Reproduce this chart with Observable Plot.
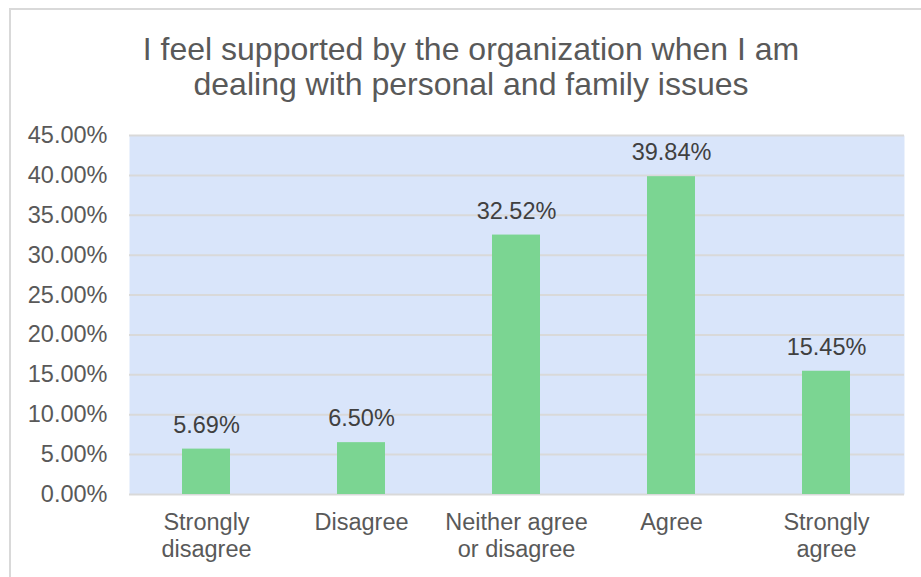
<!DOCTYPE html>
<html>
<head>
<meta charset="utf-8">
<script src="https://cdn.jsdelivr.net/npm/d3@7"></script>
<script src="https://cdn.jsdelivr.net/npm/@observablehq/plot@0.6"></script>
<style>
  body { margin: 0; background: #fff; font-family: "Liberation Sans", Arial, sans-serif; }
  #chart { position: relative; width: 921px; height: 577px; overflow: hidden; background: #fff; }
  #frame { position: absolute; left: 9px; top: 8px; width: 1000px; height: 700px;
           border-top: 2px solid #d9d9d9; border-left: 2px solid #d9d9d9; }
  #title { position: absolute; left: 11px; width: 920px; top: 32px; text-align: center;
           font-size: 32px; line-height: 35px; color: #595959; }
  #plot { position: absolute; left: 0; top: 0; }
</style>
</head>
<body>
<div id="chart">
  <div id="frame"></div>
  <div id="title">I feel supported by the organization when I am<br>dealing with personal and family issues</div>
  <div id="plot"></div>
</div>
<script>
// Survey responses (share of respondents)
const categories = ["Strongly disagree", "Disagree", "Neither agree or disagree", "Agree", "Strongly agree"];
const shares = [0.0569, 0.0650, 0.3252, 0.3984, 0.1545];
const tickLabels = ["Strongly\ndisagree", "Disagree", "Neither agree\nor disagree", "Agree", "Strongly\nagree"];
const yTicks = [0, 0.05, 0.10, 0.15, 0.20, 0.25, 0.30, 0.35, 0.40, 0.45];

const data = categories.map((c, i) => ({category: c, share: shares[i]}));
const pct = d3.format(".2%");
const labelOf = new Map(categories.map((c, i) => [c, tickLabels[i]]));

const chart = Plot.plot({
  width: 921,
  height: 577,
  marginLeft: 129,
  marginRight: 17,
  marginTop: 135,
  marginBottom: 83,
  style: {fontFamily: "'Liberation Sans', Arial, sans-serif", background: "transparent"},
  x: {domain: categories, paddingInner: 0.69, paddingOuter: 0.345, label: null},
  y: {domain: [0, 0.45], label: null},
  marks: [
    Plot.frame({fill: "#d9e5fa", stroke: "none"}),
    Plot.gridY(yTicks, {stroke: "#d9d9d9", strokeOpacity: 1, strokeWidth: 2}),
    Plot.barY(data, {x: "category", y: "share", fill: "#7bd592"}),
    Plot.text(data, {x: "category", y: "share", text: d => pct(d.share), dy: -24,
                     fontSize: 23.5, fill: "#404040"}),
    Plot.axisY(yTicks, {tickSize: 0, tickPadding: 22, tickFormat: pct, fontSize: 23.5,
                        color: "#595959", label: null}),
    Plot.axisX({tickSize: 0, tickPadding: 16, tickFormat: c => labelOf.get(c), fontSize: 23.5,
                lineHeight: 1.15, color: "#595959", label: null})
  ]
});
document.getElementById("plot").appendChild(chart);
</script>
</body>
</html>
